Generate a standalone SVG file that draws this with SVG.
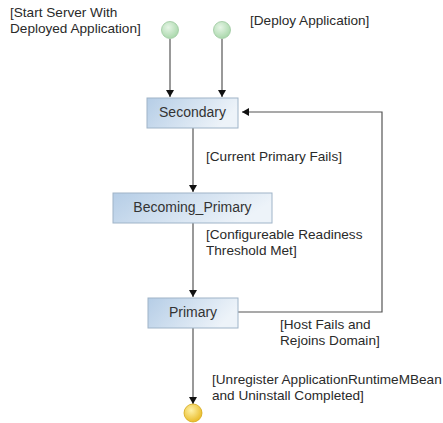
<svg xmlns="http://www.w3.org/2000/svg" width="443" height="423" viewBox="0 0 443 423">
<style>
text{font-family:"Liberation Sans",Arial,sans-serif;font-size:13.6px;fill:#2a2a2a}
.box{stroke:#9fb4c8;stroke-width:1}
.ln{stroke:#555;stroke-width:1.2;fill:none}
.lbl{font-size:14px;fill:#333}
</style>
<defs>
<linearGradient id="bg" x1="0" y1="0" x2="1" y2="0.3">
<stop offset="0" stop-color="#b5cde6"/>
<stop offset="1" stop-color="#edf3f9"/>
</linearGradient>
<radialGradient id="gg" cx="0.4" cy="0.35" r="0.7">
<stop offset="0" stop-color="#e6f5e6"/>
<stop offset="1" stop-color="#a6d6a8"/>
</radialGradient>
<radialGradient id="yg" cx="0.4" cy="0.35" r="0.7">
<stop offset="0" stop-color="#fff2a8"/>
<stop offset="1" stop-color="#e8b820"/>
</radialGradient>
<marker id="ar" markerWidth="7" markerHeight="8" refX="7" refY="4" orient="auto" markerUnits="userSpaceOnUse">
<path d="M0,0 L7,4 L0,8 Z" fill="#111"/>
</marker>
</defs>
<g id="connectors">
<line class="ln" x1="170" y1="39" x2="170" y2="97" marker-end="url(#ar)"/>
<line class="ln" x1="222" y1="39" x2="222" y2="97" marker-end="url(#ar)"/>
<line class="ln" x1="193" y1="128" x2="193" y2="192" marker-end="url(#ar)"/>
<line class="ln" x1="193" y1="223" x2="193" y2="297" marker-end="url(#ar)"/>
<line class="ln" x1="193" y1="328" x2="193" y2="404" marker-end="url(#ar)"/>
<polyline class="ln" points="238,312 382,312 382,112 242,112" marker-end="url(#ar)"/>
</g>
<g id="start1"><circle cx="170" cy="30" r="8.5" fill="url(#gg)" stroke="#9cc89e" stroke-width="0.8"/></g>
<g id="start2"><circle cx="222" cy="30" r="8.5" fill="url(#gg)" stroke="#9cc89e" stroke-width="0.8"/></g>
<g id="end"><circle cx="193" cy="413" r="9" fill="url(#yg)" stroke="#d4a818" stroke-width="0.8"/></g>
<g id="secondary">
<rect class="box" x="147" y="98" width="91" height="30" fill="url(#bg)"/>
<text x="192.5" y="117" text-anchor="middle" class="lbl">Secondary</text>
</g>
<g id="becoming_primary">
<rect class="box" x="113" y="193" width="159" height="30" fill="url(#bg)"/>
<text x="192.5" y="212" text-anchor="middle" class="lbl">Becoming_Primary</text>
</g>
<g id="primary">
<rect class="box" x="148" y="298" width="90" height="30" fill="url(#bg)"/>
<text x="193" y="317" text-anchor="middle" class="lbl">Primary</text>
</g>
<g id="labels">
<text x="10" y="17">[Start Server With</text>
<text x="10" y="33">Deployed Application]</text>
<text x="250" y="25">[Deploy Application]</text>
<text x="206" y="161">[Current Primary Fails]</text>
<text x="206" y="239">[Configureable Readiness</text>
<text x="206" y="255">Threshold Met]</text>
<text x="280" y="329">[Host Fails and</text>
<text x="280" y="345">Rejoins Domain]</text>
<text x="212" y="384">[Unregister ApplicationRuntimeMBean</text>
<text x="212" y="400">and Uninstall Completed]</text>
</g>
</svg>
